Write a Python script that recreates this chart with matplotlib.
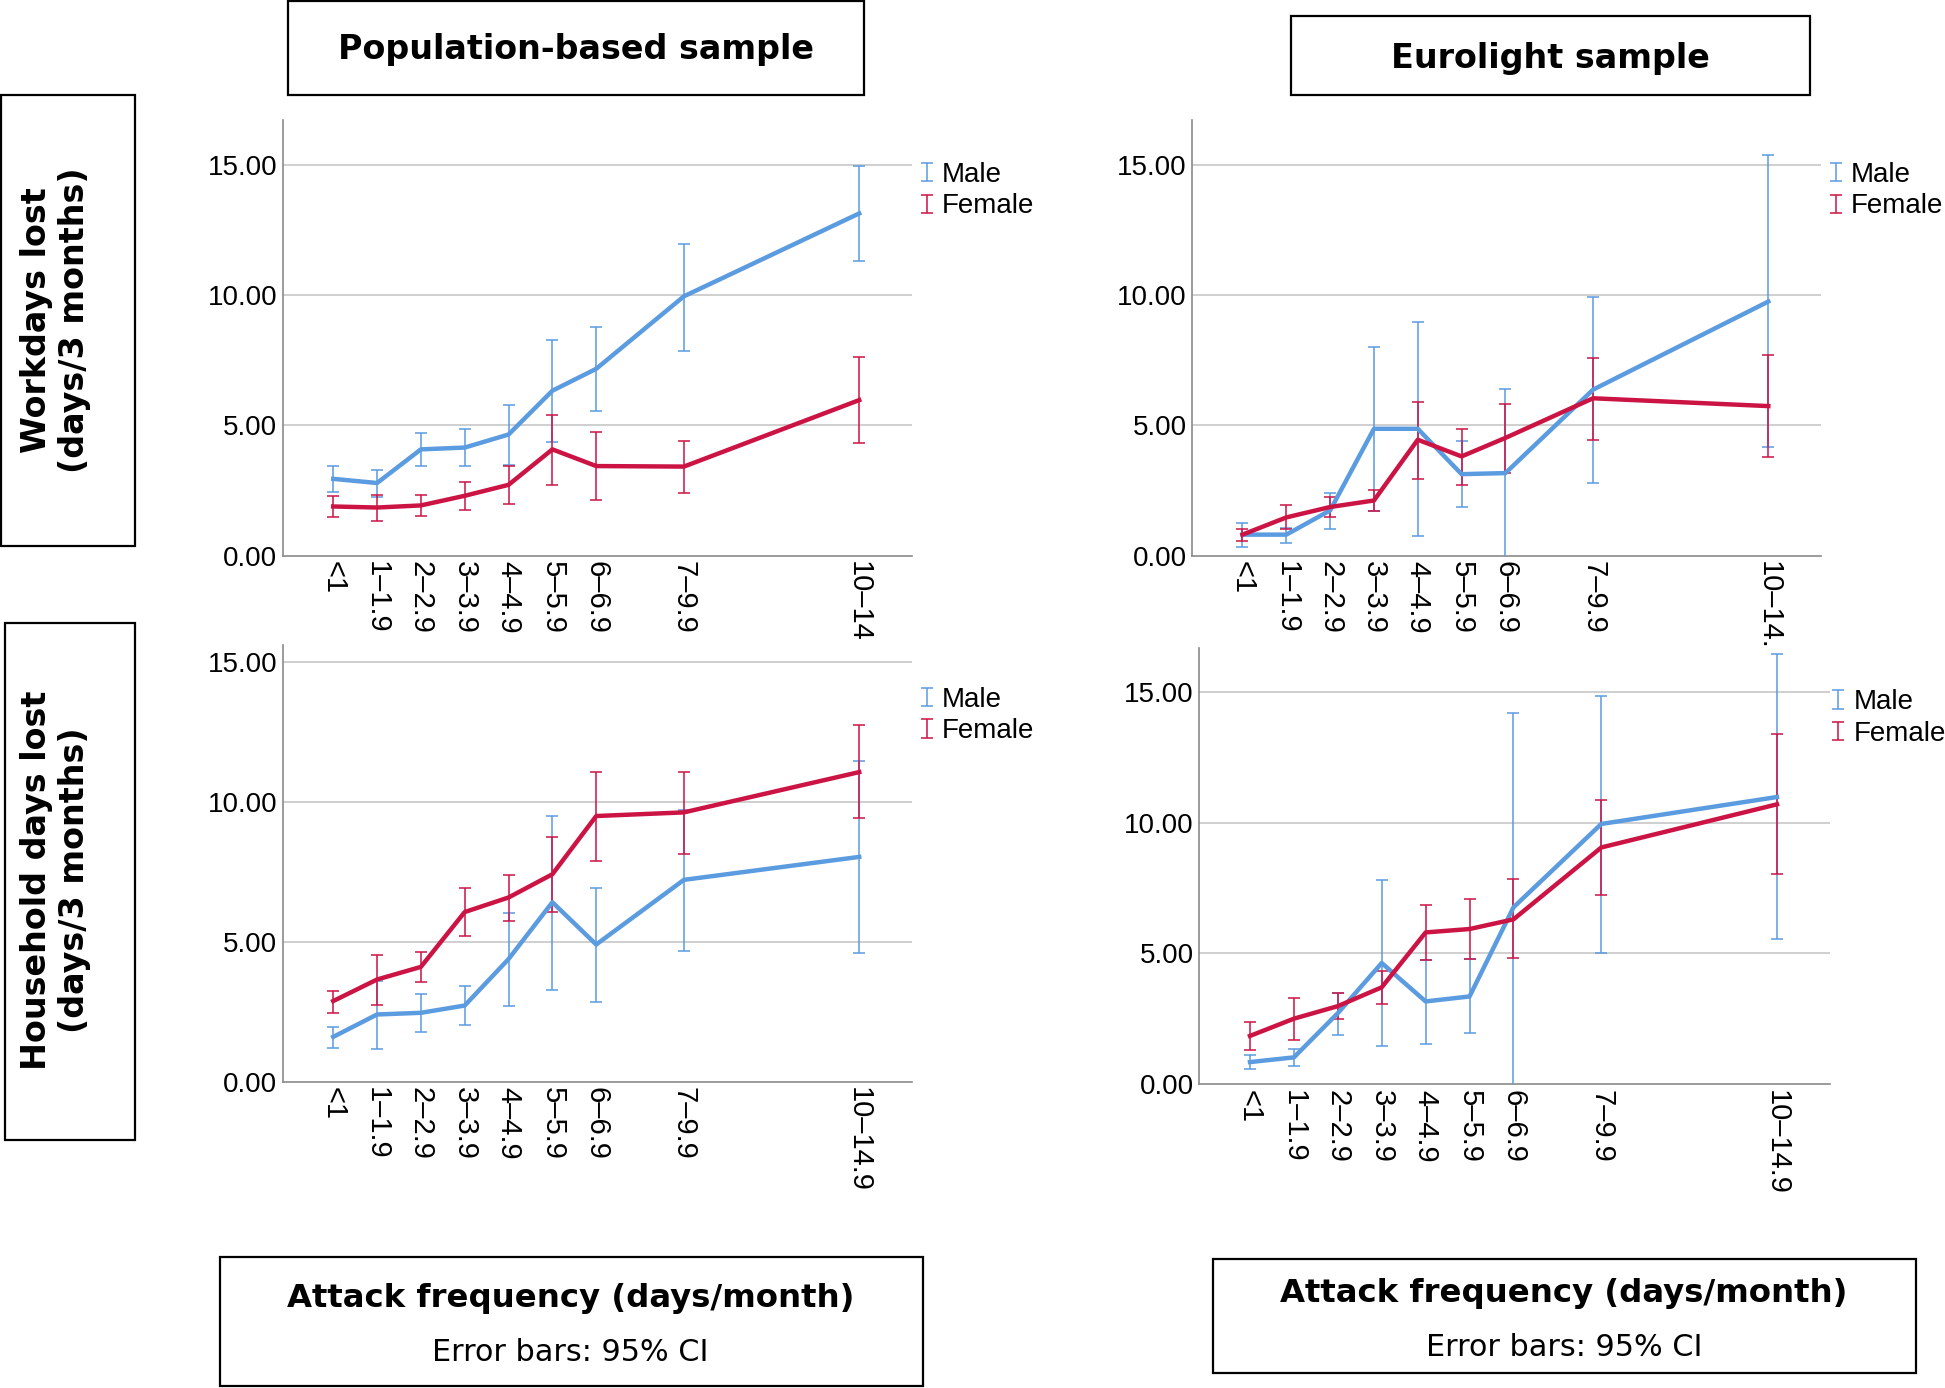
import matplotlib
matplotlib.use("Agg")
import matplotlib.pyplot as plt
from matplotlib.patches import Rectangle
from matplotlib.container import ErrorbarContainer
from matplotlib.legend_handler import HandlerErrorbar

# attack frequency groups, plotted at the class midpoints
x_mid = [0.5, 1.5, 2.5, 3.5, 4.5, 5.5, 6.5, 8.5, 12.5]
labels_tl = ["<1", "1–1.9", "2–2.9", "3–3.9", "4–4.9", "5–5.9", "6–6.9", "7–9.9", "10–14"]
labels_tr = ["<1", "1–1.9", "2–2.9", "3–3.9", "4–4.9", "5–5.9", "6–6.9", "7–9.9", "10–14."]
labels_bottom = ["<1", "1–1.9", "2–2.9", "3–3.9", "4–4.9", "5–5.9", "6–6.9", "7–9.9", "10–14.9"]

# workdays lost, population-based sample
wd_pop_m = [2.95, 2.79, 4.08, 4.15, 4.65, 6.33, 7.17, 9.95, 13.13]
wd_pop_m_lo = [2.46, 2.24, 3.43, 3.44, 3.48, 4.36, 5.55, 7.87, 11.30]
wd_pop_m_hi = [3.43, 3.30, 4.70, 4.85, 5.80, 8.28, 8.79, 11.97, 14.94]
wd_pop_f = [1.89, 1.85, 1.93, 2.30, 2.72, 4.08, 3.44, 3.42, 5.97]
wd_pop_f_lo = [1.50, 1.32, 1.54, 1.77, 2.00, 2.73, 2.12, 2.42, 4.34]
wd_pop_f_hi = [2.29, 2.33, 2.33, 2.82, 3.46, 5.38, 4.73, 4.41, 7.63]

# workdays lost, Eurolight sample
wd_eu_m = [0.81, 0.81, 1.74, 4.87, 4.87, 3.13, 3.17, 6.37, 9.75]
wd_eu_m_lo = [0.33, 0.49, 1.03, 1.70, 0.74, 1.87, -0.5, 2.78, 4.19]
wd_eu_m_hi = [1.26, 1.07, 2.42, 7.99, 8.95, 4.41, 6.40, 9.92, 15.38]
wd_eu_f = [0.81, 1.47, 1.87, 2.12, 4.45, 3.81, 4.52, 6.04, 5.74]
wd_eu_f_lo = [0.58, 1.01, 1.47, 1.70, 2.95, 2.72, 3.17, 4.45, 3.79]
wd_eu_f_hi = [1.01, 1.96, 2.26, 2.53, 5.91, 4.87, 5.81, 7.60, 7.70]

# household days lost, population-based sample
hh_pop_m = [1.60, 2.40, 2.46, 2.72, 4.38, 6.41, 4.90, 7.21, 8.03]
hh_pop_m_lo = [1.22, 1.15, 1.79, 2.01, 2.69, 3.29, 2.85, 4.68, 4.58]
hh_pop_m_hi = [1.95, 3.60, 3.14, 3.40, 6.03, 9.49, 6.91, 9.72, 11.45]
hh_pop_f = [2.88, 3.65, 4.10, 6.06, 6.58, 7.41, 9.49, 9.62, 11.06]
hh_pop_f_lo = [2.46, 2.74, 3.56, 5.22, 5.73, 6.06, 7.87, 8.15, 9.41]
hh_pop_f_hi = [3.24, 4.54, 4.62, 6.91, 7.38, 8.74, 11.08, 11.05, 12.73]

# household days lost, Eurolight sample
hh_eu_m = [0.84, 1.02, 2.71, 4.63, 3.16, 3.35, 6.76, 9.95, 10.98]
hh_eu_m_lo = [0.56, 0.69, 1.88, 1.47, 1.54, 1.95, -0.5, 5.01, 5.54]
hh_eu_m_hi = [1.10, 1.33, 3.49, 7.79, 4.73, 4.77, 14.18, 14.84, 16.44]
hh_eu_f = [1.84, 2.50, 2.98, 3.70, 5.80, 5.93, 6.30, 9.05, 10.70]
hh_eu_f_lo = [1.29, 1.70, 2.50, 3.05, 4.74, 4.77, 4.81, 7.24, 8.04]
hh_eu_f_hi = [2.39, 3.28, 3.49, 4.33, 6.85, 7.06, 7.84, 10.88, 13.39]

BLUE = "#5b9be0"
RED = "#cc1444"
TICK_FONT = "Liberation Sans"

fig = plt.figure(figsize=(19.45, 13.88), dpi=100)


def panel(rect, ylim, labels, male, m_lo, m_hi, female, f_lo, f_hi, leg_x=0.995):
    ax = fig.add_axes(rect)
    for mean, lo, hi, col, name in [(male, m_lo, m_hi, BLUE, "Male"),
                                    (female, f_lo, f_hi, RED, "Female")]:
        err = [[m - l for m, l in zip(mean, lo)], [h - m for m, h in zip(mean, hi)]]
        ax.errorbar(x_mid, mean, yerr=err, fmt="none", ecolor=col, elinewidth=1.3,
                    capsize=4.5, capthick=1.3, alpha=0.85, label=name, zorder=3)
        ax.plot(x_mid, mean, color=col, lw=3.2, zorder=4, solid_joinstyle="round")
    ax.set_xlim(-0.65, 13.7)
    ax.set_ylim(*ylim)
    ax.set_yticks([0, 5, 10, 15])
    ax.set_yticklabels(["0.00", "5.00", "10.00", "15.00"], fontsize=20, family=TICK_FONT)
    ax.set_xticks(x_mid)
    ax.set_xticklabels(labels, rotation=-90, fontsize=21, family=TICK_FONT)
    ax.tick_params(length=0, pad=4)
    for y in [5, 10, 15]:
        ax.axhline(y, color="#cfcfcf", lw=1.4, zorder=1)
    for s in ["top", "right"]:
        ax.spines[s].set_visible(False)
    for s in ["left", "bottom"]:
        ax.spines[s].set_color("#8a8a8a")
        ax.spines[s].set_linewidth(1.2)
    ax.legend(loc="upper left", bbox_to_anchor=(leg_x, 0.93), frameon=False,
              prop={"family": TICK_FONT, "size": 20},
              handler_map={ErrorbarContainer: HandlerErrorbar(xerr_size=0.3, yerr_size=0.33)},
              handlelength=0.5, handletextpad=0.3, labelspacing=0.2, borderaxespad=0)
    return ax


panel([0.1454, 0.5996, 0.3234, 0.3137], (0, 16.7), labels_tl,
      wd_pop_m, wd_pop_m_lo, wd_pop_m_hi, wd_pop_f, wd_pop_f_lo, wd_pop_f_hi)
panel([0.6129, 0.5996, 0.3233, 0.3137], (0, 16.7), labels_tr,
      wd_eu_m, wd_eu_m_lo, wd_eu_m_hi, wd_eu_f, wd_eu_f_lo, wd_eu_f_hi)
panel([0.1454, 0.2207, 0.3234, 0.3146], (0, 15.6), labels_bottom,
      hh_pop_m, hh_pop_m_lo, hh_pop_m_hi, hh_pop_f, hh_pop_f_lo, hh_pop_f_hi)
panel([0.6167, 0.2190, 0.3240, 0.3145], (0, 16.7), labels_bottom,
      hh_eu_m, hh_eu_m_lo, hh_eu_m_hi, hh_eu_f, hh_eu_f_lo, hh_eu_f_hi, leg_x=0.985)


def box(x0, y0, w, h):
    fig.add_artist(Rectangle((x0, y0), w, h, transform=fig.transFigure,
                             fill=False, ec="black", lw=1.6))


# column titles
box(0.148, 0.9312, 0.296, 0.0679)
fig.text(0.2959, 0.9643, "Population-based sample", ha="center", va="center",
         fontsize=24, fontweight="bold")
box(0.6639, 0.9312, 0.2666, 0.0572)
fig.text(0.7972, 0.958, "Eurolight sample", ha="center", va="center",
         fontsize=24, fontweight="bold")

# row titles
box(0.0006, 0.6068, 0.0689, 0.3244)
fig.text(0.0287, 0.7694, "Workdays lost\n(days/3 months)", ha="center", va="center",
         rotation=90, fontsize=24, fontweight="bold", multialignment="center")
box(0.0026, 0.1787, 0.067, 0.3727)
fig.text(0.0287, 0.3655, "Household days lost\n(days/3 months)", ha="center", va="center",
         rotation=90, fontsize=24, fontweight="bold", multialignment="center")

# x axis titles
box(0.1129, 0.0018, 0.3616, 0.0929)
fig.text(0.2934, 0.0643, "Attack frequency (days/month)", ha="center", va="center",
         fontsize=23.3, fontweight="bold")
fig.text(0.2934, 0.0259, "Error bars: 95% CI", ha="center", va="center", fontsize=21.8)
box(0.6237, 0.0107, 0.3616, 0.0822)
fig.text(0.8042, 0.0679, "Attack frequency (days/month)", ha="center", va="center",
         fontsize=23.3, fontweight="bold")
fig.text(0.8042, 0.0295, "Error bars: 95% CI", ha="center", va="center", fontsize=21.8)

fig.savefig("out.png", dpi=100)
